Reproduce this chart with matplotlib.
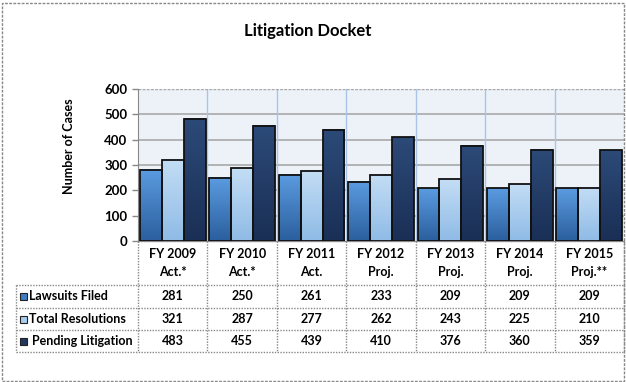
import matplotlib
matplotlib.use("Agg")
import matplotlib.pyplot as plt
import numpy as np
from matplotlib.colors import LinearSegmentedColormap
from matplotlib.patches import Rectangle

categories = ["FY 2009\nAct.*", "FY 2010\nAct.*", "FY 2011\nAct.", "FY 2012\nProj.",
              "FY 2013\nProj.", "FY 2014\nProj.", "FY 2015\nProj.**"]
series_names = ["Lawsuits Filed", "Total Resolutions", "Pending Litigation"]
lawsuits_filed = [281, 250, 261, 233, 209, 209, 209]
total_resolutions = [321, 287, 277, 262, 243, 225, 210]
pending_litigation = [483, 455, 439, 410, 376, 360, 359]
series = [lawsuits_filed, total_resolutions, pending_litigation]

# gradient colours (top, bottom)
grads = [("#5b9be0", "#2b5f9e"), ("#c3ddf5", "#8fbbe6"), ("#2c4a78", "#1a2f55")]
key_colors = ["#3f7cc4", "#a9cdef", "#22395f"]

plt.rcParams['font.family'] = ['Lato', 'DejaVu Sans']
W, H = 626, 382
fig = plt.figure(figsize=(W/100, H/100), dpi=100)

def px(x0, y0, x1, y1):
    return [x0/W, 1 - y1/H, (x1-x0)/W, (y1-y0)/H]

# outer border
fig.add_artist(Rectangle((1.5/W, 1.5/H), (W-4)/W, (H-4)/H, transform=fig.transFigure,
                         fill=False, ec="#888888", lw=1, ls=(0, (2, 1))))

fig.text(308/W, 1 - 31/H, "Litigation Docket", ha="center", va="center",
         fontsize=12, fontweight="bold")

x0p, x1p, y0p, y1p = 138, 624, 89, 241
ax = fig.add_axes(px(x0p, y0p, x1p, y1p))
n = len(categories)
ax.set_xlim(0, n)
ax.set_ylim(0, 600)
ax.set_facecolor("#edf2f9")
for y in range(100, 600, 100):
    ax.axhline(y, color="#a8a8a8", lw=1.2, zorder=1)
for i in range(1, n):
    ax.axvline(i, color="#a9c4e8", lw=1, zorder=1)
ax.axhline(600, color="#a8a8a8", lw=1, ls=(0, (2, 1)), zorder=1)

bw = 0.315
for s, vals in enumerate(series):
    top, bot = grads[s]
    cmap = LinearSegmentedColormap.from_list("g%d" % s, [bot, top])
    grad = np.linspace(1, 0, 100).reshape(-1, 1)
    for i, v in enumerate(vals):
        xl = i + 0.5 - 1.5*bw + s*bw
        ax.imshow(grad, cmap=cmap, extent=(xl, xl+bw, 0, v), aspect="auto",
                  zorder=2, interpolation="bilinear")
        ax.add_patch(Rectangle((xl, 0), bw, v, fill=False, ec="#111111", lw=1.3, zorder=3))
ax.set_xlim(0, n)
ax.set_ylim(0, 600)
ax.set_xticks([])
ax.set_yticks(range(0, 601, 100))
ax.tick_params(axis="y", length=4, labelsize=9.5, width=1, color="#888888")
for t in ax.get_yticklabels():
    t.set_fontweight("bold")
for sp in ["top", "right"]:
    ax.spines[sp].set_visible(False)
ax.spines["left"].set_color("#888888")
ax.spines["bottom"].set_color("#888888")
fig.text(69/W, 1 - 146/H, "Number of Cases", rotation=90, ha="center", va="center",
         fontsize=9, fontweight="bold")

# data table
tx0, tx1 = 16, 624
tax = fig.add_axes(px(0, 241, W, 360))
tax.set_xlim(0, W)
tax.set_ylim(360, 241)
tax.axis("off")
rows_y = [241, 285, 308, 330, 352]
col_w = (x1p - x0p) / n
dot = (0, (1, 1))
gc = "#888888"
tax.plot([x0p, tx1], [241, 241], color=gc, lw=1, ls=dot)
for y in rows_y[1:]:
    tax.plot([tx0, tx1], [y, y], color=gc, lw=1, ls=dot)
for i in range(n + 1):
    x = x0p + i*col_w
    tax.plot([x, x], [241, 352], color=gc, lw=1, ls=dot)
tax.plot([tx0, tx0], [285, 352], color=gc, lw=1, ls=dot)

for i, c in enumerate(categories):
    tax.text(x0p + (i+0.5)*col_w, 263, c, ha="center", va="center",
             fontsize=9, fontweight="bold", linespacing=1.5)
for s, vals in enumerate(series):
    yc = (rows_y[s+1] + rows_y[s+2]) / 2
    tax.add_patch(Rectangle((20, yc-3.5), 7, 7, fc=key_colors[s], ec="#222222", lw=0.8))
    label = series_names[s] if s < 2 else " " + series_names[s]
    tax.text(29, yc, label, ha="left", va="center", fontsize=9, fontweight="bold")
    for i, v in enumerate(vals):
        tax.text(x0p + (i+0.5)*col_w, yc, str(v), ha="center", va="center",
                 fontsize=9, fontweight="bold")

fig.savefig("out.png", dpi=100)
